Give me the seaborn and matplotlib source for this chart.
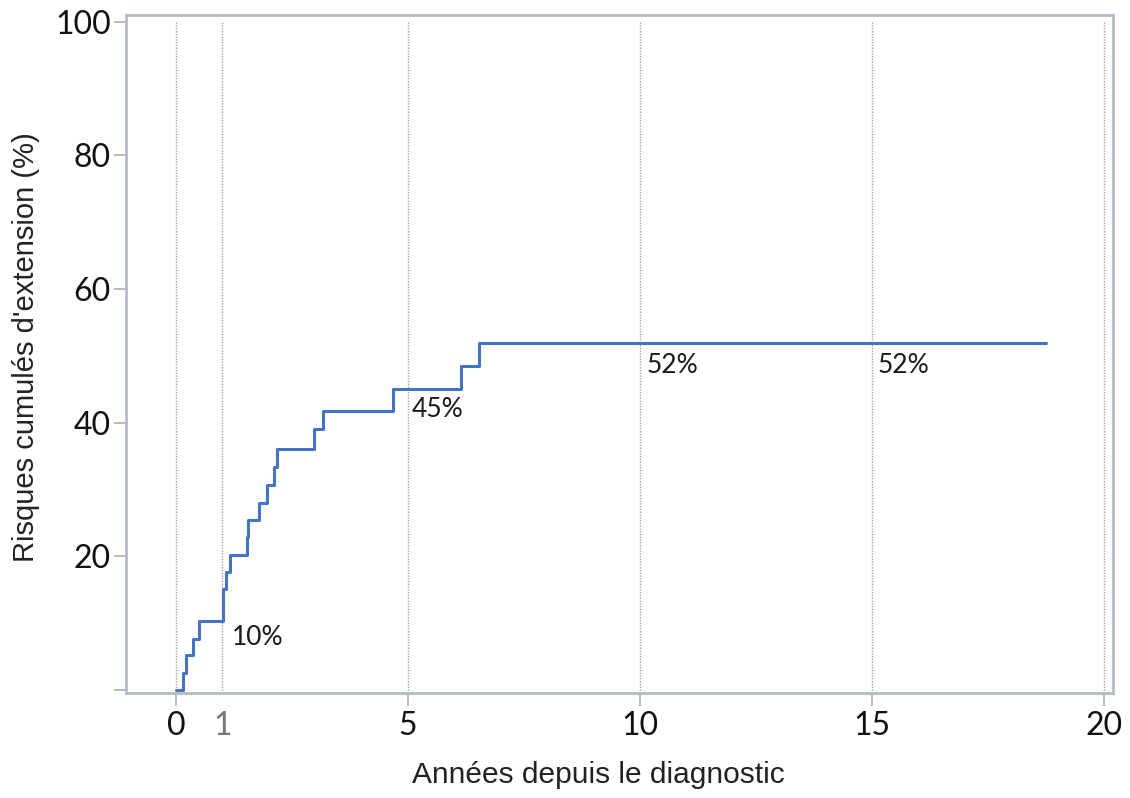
import pandas as pd
import matplotlib.pyplot as plt
import seaborn as sns

# years since diagnosis where the cumulative risk steps up, and the risk (%) after each step
annees = [0, 0.15, 0.21, 0.37, 0.50, 1.01, 1.08, 1.16, 1.53, 1.55, 1.79, 1.96,
          2.11, 2.17, 2.97, 3.17, 4.68, 6.14, 6.53, 18.75]
risque = [0, 2.5, 5.2, 7.6, 10.3, 15.1, 17.7, 20.2, 22.9, 25.5, 28.0, 30.7,
          33.4, 36.0, 39.0, 41.8, 45.1, 48.5, 52.0, 52.0]

repere_annees = [0, 1, 5, 10, 15, 20]
etiquettes = [("10%", 1.21, 6.8), ("45%", 5.09, 40.9), ("52%", 10.15, 47.5), ("52%", 15.13, 47.5)]
y_ticks = [0, 20, 40, 60, 80, 100]
y_ticklabels = ["", "20", "40", "60", "80", "100"]

sns.set_theme(style="white")
plt.rcParams['font.family'] = ['Lato', 'DejaVu Sans']

frame = pd.DataFrame({"annees": annees, "risque": risque})

fig = plt.figure(figsize=(11.3, 7.98), dpi=100)
ax = fig.add_axes([0.1115, 0.1316, 0.985 - 0.1115, 0.981 - 0.1316])

# dotted reference lines
ax.vlines(repere_annees, -0.5, 100, colors="#a4a4a4", linestyles=(0, (1, 1)), linewidth=1.0, zorder=1)

sns.lineplot(data=frame, x="annees", y="risque", drawstyle="steps-post",
             color="#4472C4", linewidth=2.2, estimator=None, ax=ax, zorder=3)

for txt, xx, yy in etiquettes:
    ax.text(xx, yy, txt, fontsize=19, color="#1a1a1a", ha="left", va="baseline")

ax.set_xlim(-1.08, 20.2)
ax.set_ylim(-0.45, 101)

ax.set_xticks(repere_annees)
ax.set_xticklabels([str(v) for v in repere_annees])
ax.set_yticks(y_ticks)
ax.set_yticklabels(y_ticklabels)

ax.tick_params(axis="both", which="both", direction="out", length=9, width=1.2,
               color="#a8b0b8", labelsize=23, labelcolor="#111111")
ax.tick_params(axis="x", pad=4, bottom=True)
ax.tick_params(axis="y", pad=2, left=True)

# year 1 label is grey and has no tick line
ax.get_xticklabels()[1].set_color("#777777")
ax.xaxis.get_major_ticks()[1].tick1line.set_visible(False)

for side in ["left", "right", "top", "bottom"]:
    ax.spines[side].set_visible(True)
    ax.spines[side].set_color("#b4bcc4")
    ax.spines[side].set_linewidth(2)

ax.set_xlabel("")
ax.set_ylabel("")
fig.text(598 / 1130, 1 - 775 / 798, "Années depuis le diagnostic", ha="center", va="center",
         fontsize=21.5, family=["Liberation Sans", "DejaVu Sans"], color="#222222")
fig.text(26 / 1130, 1 - 347 / 798, "Risques cumulés d'extension (%)", ha="center", va="center",
         rotation=90, fontsize=21, family=["Liberation Sans", "DejaVu Sans"], color="#222222")

fig.savefig("out.png", dpi=100)
